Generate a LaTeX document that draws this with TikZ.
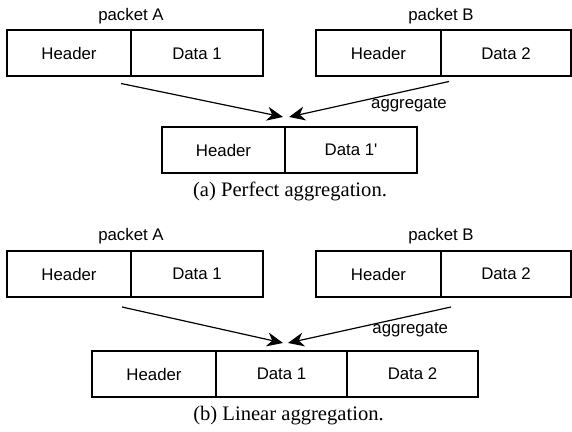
\documentclass[tikz,border=0pt]{standalone}
\usepackage{fontspec}
\setmainfont{Liberation Serif}
\newfontfamily\arialfont{Liberation Sans}
\usepackage{tikz}
\usetikzlibrary{arrows.meta,positioning}

\begin{document}
\begin{tikzpicture}[x=0.5pt,y=0.5pt,>={Stealth[length=8pt,width=7pt,inset=2.5pt]},semithick]
\tikzstyle{cell}=[draw,line width=1pt,outer sep=0pt,minimum height=23pt,inner sep=0pt,font=\arialfont\fontsize{8.4}{10}\selectfont]
\tikzstyle{lbl}=[inner sep=2pt,font=\arialfont\fontsize{8.4}{10}\selectfont]
\tikzstyle{captext}=[inner sep=2pt,font=\fontsize{10.3}{12}\selectfont]
\useasboundingbox (0,0) rectangle (572,-432);
% (a) perfect aggregation
\node[cell,minimum width=62pt] (hA1) at (69,-53.5) {Header};
\node[cell,minimum width=66pt,right=0pt of hA1] (dA1) {Data 1};
\node[lbl,above=1pt of hA1.north east] (pA1) {packet A};
\node[cell,minimum width=62.5pt] (hB1) at (378.5,-53.5) {Header};
\node[cell,minimum width=65pt,right=0pt of hB1] (dB1) {Data 2};
\node[lbl,above=1pt of dB1.north west] (pB1) {packet B};
\node[cell,minimum width=61.5pt] (hR1) at (223.5,-150) {Header};
\node[cell,minimum width=66pt,right=0pt of hR1] (dR1) {Data 1'};
\draw[->] ([shift={(-5pt,-3.5pt)}]hA1.south east) -- ([shift={(-1pt,5pt)}]hR1.north east);
\draw[->] ([shift={(4pt,-2.5pt)}]dB1.south west) -- node[lbl,pos=0.25,below=1.5pt] (agg1) {aggregate} ([shift={(2pt,5pt)}]hR1.north east);
\node[captext,below=2pt of hR1.south east,xshift=2.5pt] (capA) {(a) Perfect aggregation.};
% (b) linear aggregation
\node[cell,minimum width=62pt] (hA2) at (69,-274) {Header};
\node[cell,minimum width=66pt,right=0pt of hA2] (dA2) {Data 1};
\node[lbl,above=1pt of hA2.north east] (pA2) {packet A};
\node[cell,minimum width=62.5pt] (hB2) at (378.5,-274) {Header};
\node[cell,minimum width=65pt,right=0pt of hB2] (dB2) {Data 2};
\node[lbl,above=1pt of dB2.north west] (pB2) {packet B};
\node[cell,minimum width=62pt] (hR2) at (154,-374) {Header};
\node[cell,minimum width=65.5pt,right=0pt of hR2] (dR2) {Data 1};
\node[cell,minimum width=65.5pt,right=0pt of dR2] (eR2) {Data 2};
\draw[->] ([shift={(-4.5pt,-5pt)}]hA2.south east) -- ([shift={(0.75pt,4pt)}]dR2.north);
\draw[->] ([shift={(5pt,-5pt)}]dB2.south west) -- node[lbl,pos=0.25,below=1.2pt] (agg2) {aggregate} ([shift={(3.25pt,4pt)}]dR2.north);
\node[captext,below=2.5pt of dR2.south,xshift=3.5pt] (capB) {(b) Linear aggregation.};
\end{tikzpicture}
\end{document}
